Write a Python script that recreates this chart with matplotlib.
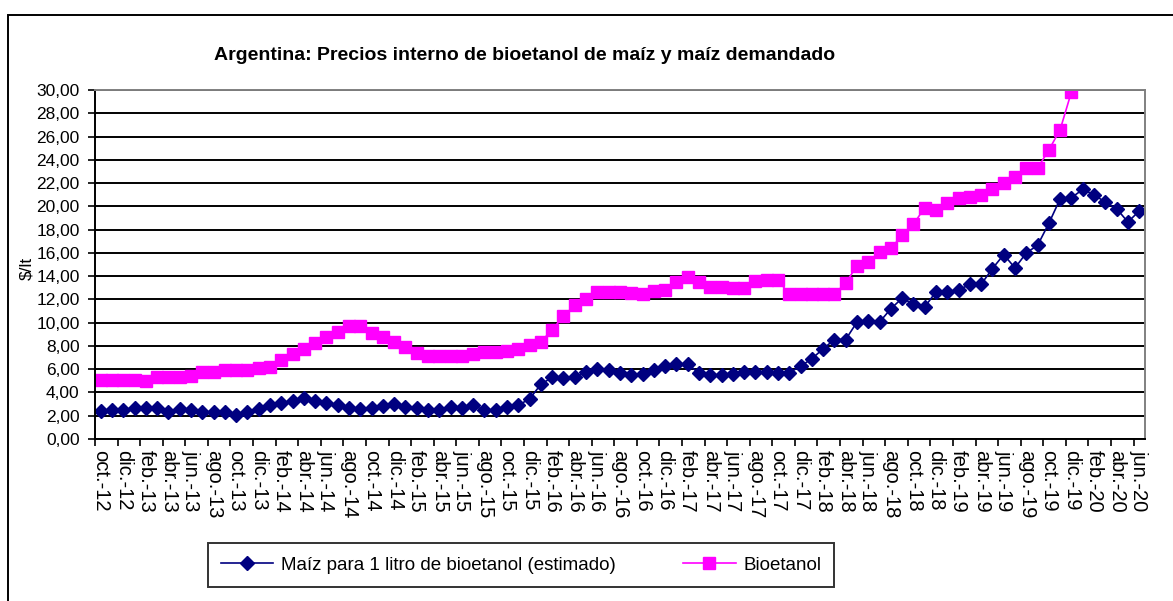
import numpy as np
import matplotlib
matplotlib.use('Agg')
import matplotlib.pyplot as plt
from matplotlib.patches import Rectangle
from matplotlib.ticker import FuncFormatter, MultipleLocator

plt.rcParams['font.family'] = ['Liberation Sans', 'DejaVu Sans']

# meses: oct-12 .. jun-20
meses_es = ['ene.', 'feb.', 'mar.', 'abr.', 'may.', 'jun.',
            'jul.', 'ago.', 'sep.', 'oct.', 'nov.', 'dic.']

# Maíz para 1 litro de bioetanol (estimado), $/lt
maiz = [2.4, 2.5, 2.5, 2.7, 2.7, 2.7, 2.35, 2.6, 2.5, 2.35, 2.3, 2.3,
        2.1, 2.3, 2.6, 2.9, 3.05, 3.3, 3.5, 3.3, 3.05, 2.9, 2.65, 2.55,
        2.7, 2.8, 3.0, 2.75, 2.7, 2.45, 2.45, 2.75, 2.7, 2.9, 2.45, 2.45,
        2.75, 2.9, 3.45, 4.7, 5.3, 5.2, 5.3, 5.75, 6.05, 5.9, 5.7, 5.5,
        5.6, 5.9, 6.3, 6.45, 6.45, 5.65, 5.5, 5.5, 5.55, 5.75, 5.75, 5.75,
        5.7, 5.7, 6.25, 6.9, 7.75, 8.55, 8.55, 10.05, 10.1, 10.05, 11.2, 12.1,
        11.6, 11.35, 12.65, 12.65, 12.8, 13.3, 13.3, 14.65, 15.85, 14.7, 16.0, 16.65,
        18.55, 20.65, 20.75, 21.45, 21.0, 20.35, 19.8, 18.65, 19.6]

# Bioetanol, $/lt (hasta dic-19)
bioetanol = [5.1, 5.1, 5.1, 5.1, 5.0, 5.3, 5.3, 5.3, 5.45, 5.8, 5.8, 5.95,
             5.95, 5.9, 6.1, 6.2, 6.8, 7.3, 7.75, 8.25, 8.8, 9.2, 9.7, 9.7,
             9.1, 8.8, 8.35, 7.95, 7.4, 7.1, 7.1, 7.1, 7.1, 7.3, 7.45, 7.5,
             7.6, 7.75, 8.1, 8.35, 9.4, 10.55, 11.5, 12.05, 12.65, 12.65, 12.65, 12.55,
             12.5, 12.7, 12.85, 13.5, 13.9, 13.5, 13.05, 13.05, 13.0, 13.0, 13.55, 13.65,
             13.65, 12.45, 12.45, 12.45, 12.45, 12.45, 13.4, 14.9, 15.2, 16.1, 16.4, 17.5,
             18.45, 19.9, 19.65, 20.3, 20.75, 20.8, 20.95, 21.5, 22.0, 22.55, 23.3, 23.3,
             24.85, 26.6, 29.85]

etiquetas = []
for i in range(len(maiz)):
    m = (9 + i) % 12
    a = 12 + (9 + i) // 12
    etiquetas.append(f"{meses_es[m]}-{a}")

x = np.arange(len(maiz))
xb = np.arange(len(bioetanol))

fig = plt.figure(figsize=(11.73, 6.01), dpi=100)
ax = fig.add_axes([0.081, 0.2696, 0.895, 0.5806])

ax.plot(x, maiz, color='#000080', marker='D', markersize=7, lw=1.2,
        label='Maíz para 1 litro de bioetanol (estimado)')
ax.plot(xb, bioetanol, color='#FF00FF', marker='s', markersize=8.5, lw=1.2,
        label='Bioetanol')

ax.set_xlim(-0.5, len(maiz) - 0.5)
ax.set_ylim(0, 30)
ax.yaxis.set_major_locator(MultipleLocator(2))
ax.yaxis.set_major_formatter(FuncFormatter(lambda v, p: f"{v:.2f}".replace('.', ',')))
ax.grid(axis='y', color='black', lw=1.4)
ax.set_axisbelow(True)

# etiquetas cada 2 meses, marcas entre categorías
ax.set_xticks(x[::2])
ax.set_xticklabels(etiquetas[::2], rotation=270, fontsize=14.5)
ax.tick_params(axis='x', which='major', length=0, pad=8)
ax.set_xticks(np.arange(-0.5, len(maiz), 2), minor=True)
ax.tick_params(axis='x', which='minor', length=5, width=1.2, direction='out')
ax.tick_params(axis='y', length=5, width=1.2, labelsize=12.5, pad=6)

for s in ['top', 'right']:
    ax.spines[s].set_color('#808080')
    ax.spines[s].set_linewidth(1.4)
for s in ['left', 'bottom']:
    ax.spines[s].set_color('black')
    ax.spines[s].set_linewidth(1.4)

ax.set_ylabel(r'\$/lt', fontsize=12.5)
ax.yaxis.set_label_coords(-0.058, 0.49)

fig.text(0.4476, 0.908, 'Argentina: Precios interno de bioetanol de maíz y maíz demandado',
         ha='center', va='center', fontsize=14, fontweight='bold')

leg = ax.legend(loc='center', bbox_to_anchor=(521 / 1173, 1 - 565 / 601),
                bbox_transform=fig.transFigure, ncol=2, fontsize=13.5,
                frameon=True, fancybox=False, edgecolor='black',
                handlelength=2.8, handletextpad=0.4, columnspacing=3.6,
                borderpad=0.7)
leg.get_frame().set_linewidth(1.4)

fig.patches.append(Rectangle((8 / 1173, -0.02), 1.0, 1 - 15 / 601 + 0.02,
                             transform=fig.transFigure, fill=False,
                             edgecolor='black', lw=1.4))

fig.savefig('out.png', dpi=100)
